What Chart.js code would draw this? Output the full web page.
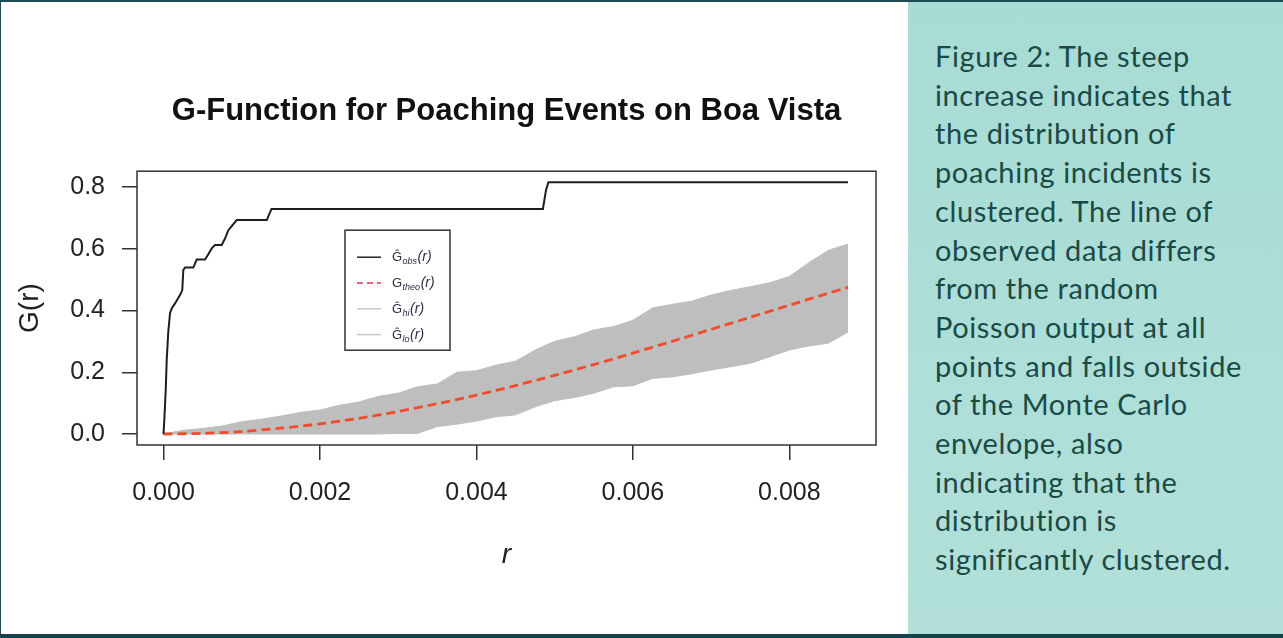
<!DOCTYPE html>
<html>
<head>
<meta charset="utf-8">
<script src="https://cdn.jsdelivr.net/npm/chart.js@4.4.1/dist/chart.umd.min.js"></script>
<style>
html,body{margin:0;padding:0;}
body{width:1283px;height:638px;position:relative;overflow:hidden;background:#fff;}
#topband{position:absolute;left:0;top:0;width:1283px;height:2px;background:#1b4b53;}
#bottomband{position:absolute;left:0;top:634px;width:1283px;height:4px;background:#16434b;}
#leftline{position:absolute;left:0;top:0;width:1px;height:638px;background:#1b4b53;}
#chartbox{position:absolute;left:0;top:0;width:908px;height:634px;}
#panel{position:absolute;left:908px;top:2px;width:375px;height:632px;background:linear-gradient(180deg,#a7dcd5,#b2e0d9);}
#caption{position:absolute;left:27px;top:35px;font-family:Lato,"Open Sans",sans-serif;font-size:29px;letter-spacing:0.6px;line-height:38.7px;color:#1b4a46;white-space:nowrap;}
</style>
</head>
<body>
<div id="topband"></div>
<div id="leftline"></div>
<div id="chartbox"><canvas id="c"></canvas></div>
<div id="panel"><div id="caption">Figure 2: The steep<br>increase indicates that<br>the distribution of<br>poaching incidents is<br>clustered. The line of<br>observed data differs<br>from the random<br>Poisson output at all<br>points and falls outside<br>of the Monte Carlo<br>envelope, also<br>indicating that the<br>distribution is<br>significantly clustered.</div></div>
<div id="bottomband"></div>
<script>
// ---- data ----
const rObs = [0, 0.00001, 0.000028, 0.000041, 0.000061, 0.000083, 0.000105, 0.000147, 0.000211, 0.00024, 0.000253, 0.000275, 0.000381, 0.000424, 0.00053, 0.000573, 0.000616, 0.000658, 0.000744, 0.000786, 0.000829, 0.000936, 0.00132, 0.00138, 0.00485, 0.00487, 0.00489, 0.00492, 0.00875];
const gObs = [0, 0.045, 0.142, 0.24, 0.331, 0.391, 0.407, 0.423, 0.45, 0.466, 0.531, 0.539, 0.539, 0.565, 0.565, 0.582, 0.601, 0.612, 0.612, 0.633, 0.66, 0.693, 0.693, 0.729, 0.729, 0.76, 0.79, 0.815, 0.815];

const rTheo = [0, 0.0005, 0.001, 0.0015, 0.002, 0.0025, 0.003, 0.0035, 0.004, 0.0045, 0.005, 0.0055, 0.006, 0.0065, 0.007, 0.0075, 0.008, 0.0085, 0.00875];
const gTheo = [0, 0.002, 0.008, 0.019, 0.033, 0.051, 0.073, 0.098, 0.126, 0.157, 0.19, 0.225, 0.262, 0.300, 0.339, 0.378, 0.417, 0.456, 0.475];

const rEnv = [0, 0.00025, 0.0005, 0.00075, 0.001, 0.00125, 0.0015, 0.00175, 0.002, 0.00225, 0.0025, 0.00275, 0.003, 0.00325, 0.0035, 0.00375, 0.004, 0.00425, 0.0045, 0.00475, 0.005, 0.00525, 0.0055, 0.00575, 0.006, 0.00625, 0.0065, 0.00675, 0.007, 0.00725, 0.0075, 0.00775, 0.008, 0.00825, 0.0085, 0.00875];
const gHi = [0, 0.012, 0.018, 0.026, 0.04, 0.048, 0.058, 0.07, 0.078, 0.093, 0.104, 0.122, 0.132, 0.153, 0.162, 0.2, 0.205, 0.223, 0.236, 0.272, 0.30, 0.315, 0.337, 0.348, 0.368, 0.408, 0.42, 0.43, 0.45, 0.465, 0.477, 0.49, 0.51, 0.555, 0.595, 0.615];
const gLo = [0, 0, 0, 0, 0, 0, 0, 0, 0, 0, 0, 0, 0.002, 0.002, 0.024, 0.032, 0.042, 0.056, 0.062, 0.088, 0.108, 0.118, 0.132, 0.153, 0.156, 0.18, 0.185, 0.195, 0.207, 0.218, 0.229, 0.25, 0.272, 0.285, 0.294, 0.33];

const xTickValues = [0, 0.002, 0.004, 0.006, 0.008];
const xTickLabels = ['0.000', '0.002', '0.004', '0.006', '0.008'];
const yTickValues = [0, 0.2, 0.4, 0.6, 0.8];
const yTickLabels = ['0.0', '0.2', '0.4', '0.6', '0.8'];

const legendMain = ['\u011C', 'G', '\u011C', '\u011C'];
const legendSub = ['obs', 'theo', 'hi', 'lo'];
const legendColors = ['#222222', '#f0607a', '#c8c8c8', '#c8c8c8'];
const legendDashes = [[], [6, 4], [], []];

const pts = (xs, ys) => xs.map((x, i) => ({x: x, y: ys[i]}));

const boxPlugin = {
  id: 'box',
  afterDatasetsDraw(chart) {
    const {ctx, chartArea: a} = chart;
    ctx.save();
    ctx.strokeStyle = '#333';
    ctx.lineWidth = 1.5;
    ctx.strokeRect(a.left, a.top, a.right - a.left, a.bottom - a.top);
    ctx.restore();
  }
};

const legendPlugin = {
  id: 'rLegend',
  afterDraw(chart) {
    const {ctx, chartArea: a} = chart;
    const x0 = a.left + 208, y0 = a.top + 59, w = 105, h = 120;
    ctx.save();
    ctx.fillStyle = '#fff';
    ctx.fillRect(x0, y0, w, h);
    ctx.strokeStyle = '#333';
    ctx.lineWidth = 1.5;
    ctx.strokeRect(x0, y0, w, h);
    for (let k = 0; k < legendSub.length; k++) {
      const yy = y0 + 27 + k * 25.8;
      ctx.beginPath();
      ctx.setLineDash(legendDashes[k]);
      ctx.strokeStyle = legendColors[k];
      ctx.lineWidth = k === 1 ? 1.8 : 1.5;
      ctx.moveTo(x0 + 12, yy);
      ctx.lineTo(x0 + 36, yy);
      ctx.stroke();
      ctx.setLineDash([]);
      ctx.fillStyle = '#2a2f45';
      ctx.textBaseline = 'alphabetic';
      let tx = x0 + 47;
      ctx.font = '13px "Liberation Sans"';
      ctx.fillText(legendMain[k], tx, yy + 4);
      tx += ctx.measureText(legendMain[k]).width + 0.5;
      ctx.font = 'italic 9px "Liberation Sans"';
      ctx.fillText(legendSub[k], tx, yy + 7);
      tx += ctx.measureText(legendSub[k]).width + 0.5;
      ctx.font = 'italic 14px "Liberation Sans"';
      ctx.fillText('(r)', tx, yy + 4);
    }
    ctx.restore();
  }
};

new Chart(document.getElementById('c'), {
  type: 'line',
  data: {
    datasets: [
      {label: 'obs', data: pts(rObs, gObs), borderColor: '#1e1e1e', borderWidth: 2, pointRadius: 0, fill: false, tension: 0},
      {label: 'theo', data: pts(rTheo, gTheo), borderColor: '#f24b2c', borderWidth: 2.8, borderDash: [9, 5], pointRadius: 0, fill: false, tension: 0.3},
      {label: 'hi', data: pts(rEnv, gHi), borderColor: '#bebebe', borderWidth: 1, pointRadius: 0, fill: '+1', backgroundColor: '#bebebe'},
      {label: 'lo', data: pts(rEnv, gLo), borderColor: '#bebebe', borderWidth: 1, pointRadius: 0, fill: false}
    ]
  },
  options: {
    animation: false,
    responsive: true,
    maintainAspectRatio: false,
    layout: {padding: {left: 0, right: 32, top: 0, bottom: 0}},
    plugins: {
      legend: {display: false},
      tooltip: {enabled: false},
      title: {
        display: true, fullSize: false,
        text: 'G-Function for Poaching Events on Boa Vista',
        color: '#111',
        font: {family: 'Liberation Sans', size: 31, weight: 'bold', lineHeight: 1.2},
        padding: {top: 93, bottom: 41}
      }
    },
    scales: {
      x: {
        type: 'linear', min: -0.000339, max: 0.009108,
        afterBuildTicks: s => { s.ticks = xTickValues.map(v => ({value: v})); },
        afterFit: s => { s.height = 189; },
        ticks: {
          callback: (v, i) => xTickLabels[i],
          font: {family: 'Liberation Sans', size: 25}, color: '#222',
          padding: 18, maxRotation: 0, autoSkip: false
        },
        grid: {display: true, drawOnChartArea: false, drawTicks: true, tickLength: 15, color: '#333', lineWidth: 1.5},
        border: {display: false},
        title: {display: true, text: 'r', color: '#222', font: {family: 'Liberation Sans', size: 28, style: 'italic'}, padding: {top: 0, bottom: 62}}
      },
      y: {
        type: 'linear', min: -0.0356, max: 0.8511,
        afterBuildTicks: s => { s.ticks = yTickValues.map(v => ({value: v})); },
        afterFit: s => { s.width = 137; },
        ticks: {
          callback: (v, i) => yTickLabels[i],
          font: {family: 'Liberation Sans', size: 25}, color: '#222',
          padding: 17, autoSkip: false
        },
        grid: {display: true, drawOnChartArea: false, drawTicks: true, tickLength: 15, color: '#333', lineWidth: 1.5},
        border: {display: false},
        title: {display: true, text: 'G(r)', color: '#222', font: {family: 'Liberation Sans', size: 28}, padding: {top: 13, bottom: 0}}
      }
    }
  },
  plugins: [boxPlugin, legendPlugin]
});
</script>
</body>
</html>
